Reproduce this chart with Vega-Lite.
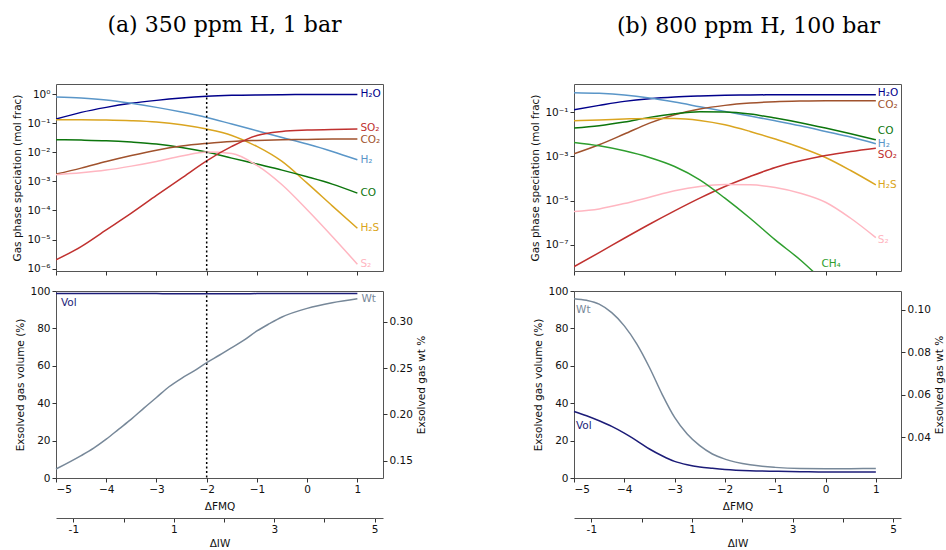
{
  "$schema": "https://vega.github.io/schema/vega-lite/v6.json",
  "background": "white",
  "padding": {"left": 12, "top": 13, "right": 0, "bottom": 0},
  "config": {
    "view": {"stroke": "#555", "strokeWidth": 1},
    "axis": {"labelFont": "DejaVu Sans", "labelFontSize": 10.5, "labelColor": "#111", "titleFont": "DejaVu Sans", "titleFontSize": 10.5, "titleFontWeight": "normal", "titleColor": "#111", "domain": false, "grid": false, "tickColor": "#333", "tickSize": 4, "labelPadding": 2, "labelOverlap": false},
    "text": {"font": "DejaVu Sans", "fontSize": 10.5}
  },
  "datasets": {
    "specA": [
      {"fmq": -5, "sp": "H₂O", "v": 0.138}, {"fmq": -4.5, "sp": "H₂O", "v": 0.234}, {"fmq": -4, "sp": "H₂O", "v": 0.348}, {"fmq": -3.5, "sp": "H₂O", "v": 0.478}, {"fmq": -3, "sp": "H₂O", "v": 0.605}, {"fmq": -2.5, "sp": "H₂O", "v": 0.728}, {"fmq": -2, "sp": "H₂O", "v": 0.832}, {"fmq": -1.5, "sp": "H₂O", "v": 0.899}, {"fmq": -1, "sp": "H₂O", "v": 0.933}, {"fmq": -0.5, "sp": "H₂O", "v": 0.951}, {"fmq": 0, "sp": "H₂O", "v": 0.959}, {"fmq": 0.5, "sp": "H₂O", "v": 0.966}, {"fmq": 1, "sp": "H₂O", "v": 0.970},
      {"fmq": -5, "sp": "H₂", "v": 0.789}, {"fmq": -4.5, "sp": "H₂", "v": 0.728}, {"fmq": -4, "sp": "H₂", "v": 0.622}, {"fmq": -3.5, "sp": "H₂", "v": 0.478}, {"fmq": -3, "sp": "H₂", "v": 0.348}, {"fmq": -2.5, "sp": "H₂", "v": 0.240}, {"fmq": -2, "sp": "H₂", "v": 0.157}, {"fmq": -1.5, "sp": "H₂", "v": 0.0929}, {"fmq": -1, "sp": "H₂", "v": 0.0548}, {"fmq": -0.5, "sp": "H₂", "v": 0.0323}, {"fmq": 0, "sp": "H₂", "v": 0.0191}, {"fmq": 0.5, "sp": "H₂", "v": 0.01067}, {"fmq": 1, "sp": "H₂", "v": 0.00551},
      {"fmq": -5, "sp": "H₂S", "v": 0.131}, {"fmq": -4.5, "sp": "H₂S", "v": 0.131}, {"fmq": -4, "sp": "H₂S", "v": 0.128}, {"fmq": -3.5, "sp": "H₂S", "v": 0.121}, {"fmq": -3, "sp": "H₂S", "v": 0.109}, {"fmq": -2.5, "sp": "H₂S", "v": 0.0881}, {"fmq": -2, "sp": "H₂S", "v": 0.0625}, {"fmq": -1.5, "sp": "H₂S", "v": 0.0378}, {"fmq": -1, "sp": "H₂S", "v": 0.0158}, {"fmq": -0.5, "sp": "H₂S", "v": 0.00482}, {"fmq": 0, "sp": "H₂S", "v": 0.000867}, {"fmq": 0.5, "sp": "H₂S", "v": 0.000144}, {"fmq": 1, "sp": "H₂S", "v": 0.0000245},
      {"fmq": -5, "sp": "CO", "v": 0.0269}, {"fmq": -4.5, "sp": "CO", "v": 0.0261}, {"fmq": -4, "sp": "CO", "v": 0.0248}, {"fmq": -3.5, "sp": "CO", "v": 0.0223}, {"fmq": -3, "sp": "CO", "v": 0.0191}, {"fmq": -2.5, "sp": "CO", "v": 0.0146}, {"fmq": -2, "sp": "CO", "v": 0.0101}, {"fmq": -1.5, "sp": "CO", "v": 0.00628}, {"fmq": -1, "sp": "CO", "v": 0.00391}, {"fmq": -0.5, "sp": "CO", "v": 0.00243}, {"fmq": 0, "sp": "CO", "v": 0.00143}, {"fmq": 0.5, "sp": "CO", "v": 0.000802}, {"fmq": 1, "sp": "CO", "v": 0.000393},
      {"fmq": -5, "sp": "CO₂", "v": 0.00177}, {"fmq": -4.5, "sp": "CO₂", "v": 0.00284}, {"fmq": -4, "sp": "CO₂", "v": 0.00482}, {"fmq": -3.5, "sp": "CO₂", "v": 0.00776}, {"fmq": -3, "sp": "CO₂", "v": 0.0118}, {"fmq": -2.5, "sp": "CO₂", "v": 0.0163}, {"fmq": -2, "sp": "CO₂", "v": 0.0201}, {"fmq": -1.5, "sp": "CO₂", "v": 0.0236}, {"fmq": -1, "sp": "CO₂", "v": 0.0255}, {"fmq": -0.5, "sp": "CO₂", "v": 0.0269}, {"fmq": 0, "sp": "CO₂", "v": 0.0275}, {"fmq": 0.5, "sp": "CO₂", "v": 0.0283}, {"fmq": 1, "sp": "CO₂", "v": 0.0283},
      {"fmq": -5, "sp": "S₂", "v": 0.00170}, {"fmq": -4.5, "sp": "S₂", "v": 0.00197}, {"fmq": -4, "sp": "S₂", "v": 0.00243}, {"fmq": -3.5, "sp": "S₂", "v": 0.00333}, {"fmq": -3, "sp": "S₂", "v": 0.00482}, {"fmq": -2.5, "sp": "S₂", "v": 0.00736}, {"fmq": -2, "sp": "S₂", "v": 0.0101}, {"fmq": -1.5, "sp": "S₂", "v": 0.00910}, {"fmq": -1, "sp": "S₂", "v": 0.00352}, {"fmq": -0.5, "sp": "S₂", "v": 0.000760}, {"fmq": 0, "sp": "S₂", "v": 0.000105}, {"fmq": 0.5, "sp": "S₂", "v": 0.0000127}, {"fmq": 1, "sp": "S₂", "v": 0.00000142},
      {"fmq": -5, "sp": "SO₂", "v": 0.00000200}, {"fmq": -4.5, "sp": "SO₂", "v": 0.00000574}, {"fmq": -4, "sp": "SO₂", "v": 0.0000215}, {"fmq": -3.5, "sp": "SO₂", "v": 0.0000805}, {"fmq": -3, "sp": "SO₂", "v": 0.000327}, {"fmq": -2.5, "sp": "SO₂", "v": 0.00129}, {"fmq": -2, "sp": "SO₂", "v": 0.00508}, {"fmq": -1.5, "sp": "SO₂", "v": 0.0158}, {"fmq": -1, "sp": "SO₂", "v": 0.0378}, {"fmq": -0.5, "sp": "SO₂", "v": 0.0520}, {"fmq": 0, "sp": "SO₂", "v": 0.0577}, {"fmq": 0.5, "sp": "SO₂", "v": 0.0608}, {"fmq": 1, "sp": "SO₂", "v": 0.0625}
    ],
    "specB": [
      {"fmq": -5, "sp": "H₂O", "v": 0.132}, {"fmq": -4.5, "sp": "H₂O", "v": 0.208}, {"fmq": -4, "sp": "H₂O", "v": 0.316}, {"fmq": -3.5, "sp": "H₂O", "v": 0.418}, {"fmq": -3, "sp": "H₂O", "v": 0.498}, {"fmq": -2.5, "sp": "H₂O", "v": 0.552}, {"fmq": -2, "sp": "H₂O", "v": 0.593}, {"fmq": -1.5, "sp": "H₂O", "v": 0.614}, {"fmq": -1, "sp": "H₂O", "v": 0.630}, {"fmq": -0.5, "sp": "H₂O", "v": 0.635}, {"fmq": 0, "sp": "H₂O", "v": 0.635}, {"fmq": 0.5, "sp": "H₂O", "v": 0.635}, {"fmq": 1, "sp": "H₂O", "v": 0.635},
      {"fmq": -5, "sp": "H₂", "v": 0.783}, {"fmq": -4.5, "sp": "H₂", "v": 0.731}, {"fmq": -4, "sp": "H₂", "v": 0.614}, {"fmq": -3.5, "sp": "H₂", "v": 0.449}, {"fmq": -3, "sp": "H₂", "v": 0.295}, {"fmq": -2.5, "sp": "H₂", "v": 0.181}, {"fmq": -2, "sp": "H₂", "v": 0.111}, {"fmq": -1.5, "sp": "H₂", "v": 0.0681}, {"fmq": -1, "sp": "H₂", "v": 0.0418}, {"fmq": -0.5, "sp": "H₂", "v": 0.0248}, {"fmq": 0, "sp": "H₂", "v": 0.0137}, {"fmq": 0.5, "sp": "H₂", "v": 0.00757}, {"fmq": 1, "sp": "H₂", "v": 0.00377},
      {"fmq": -5, "sp": "CO₂", "v": 0.00132}, {"fmq": -4.5, "sp": "CO₂", "v": 0.00339}, {"fmq": -4, "sp": "CO₂", "v": 0.0104}, {"fmq": -3.5, "sp": "CO₂", "v": 0.0327}, {"fmq": -3, "sp": "CO₂", "v": 0.0783}, {"fmq": -2.5, "sp": "CO₂", "v": 0.142}, {"fmq": -2, "sp": "CO₂", "v": 0.208}, {"fmq": -1.5, "sp": "CO₂", "v": 0.265}, {"fmq": -1, "sp": "CO₂", "v": 0.305}, {"fmq": -0.5, "sp": "CO₂", "v": 0.327}, {"fmq": 0, "sp": "CO₂", "v": 0.339}, {"fmq": 0.5, "sp": "CO₂", "v": 0.339}, {"fmq": 1, "sp": "CO₂", "v": 0.339},
      {"fmq": -5, "sp": "CO", "v": 0.0194}, {"fmq": -4.5, "sp": "CO", "v": 0.0248}, {"fmq": -4, "sp": "CO", "v": 0.0364}, {"fmq": -3.5, "sp": "CO", "v": 0.0593}, {"fmq": -3, "sp": "CO", "v": 0.0869}, {"fmq": -2.5, "sp": "CO", "v": 0.107}, {"fmq": -2, "sp": "CO", "v": 0.104}, {"fmq": -1.5, "sp": "CO", "v": 0.0839}, {"fmq": -1, "sp": "CO", "v": 0.0552}, {"fmq": -0.5, "sp": "CO", "v": 0.0339}, {"fmq": 0, "sp": "CO", "v": 0.0194}, {"fmq": 0.5, "sp": "CO", "v": 0.0107}, {"fmq": 1, "sp": "CO", "v": 0.00573},
      {"fmq": -5, "sp": "H₂S", "v": 0.0418}, {"fmq": -4.5, "sp": "H₂S", "v": 0.0449}, {"fmq": -4, "sp": "H₂S", "v": 0.0498}, {"fmq": -3.5, "sp": "H₂S", "v": 0.0533}, {"fmq": -3, "sp": "H₂S", "v": 0.0533}, {"fmq": -2.5, "sp": "H₂S", "v": 0.0433}, {"fmq": -2, "sp": "H₂S", "v": 0.0275}, {"fmq": -1.5, "sp": "H₂S", "v": 0.0137}, {"fmq": -1, "sp": "H₂S", "v": 0.00614}, {"fmq": -0.5, "sp": "H₂S", "v": 0.00256}, {"fmq": 0, "sp": "H₂S", "v": 0.000901}, {"fmq": 0.5, "sp": "H₂S", "v": 0.000231}, {"fmq": 1, "sp": "H₂S", "v": 0.0000515},
      {"fmq": -5, "sp": "SO₂", "v": 1.00e-8}, {"fmq": -4.5, "sp": "SO₂", "v": 4.33e-8}, {"fmq": -4, "sp": "SO₂", "v": 1.94e-7}, {"fmq": -3.5, "sp": "SO₂", "v": 8.39e-7}, {"fmq": -3, "sp": "SO₂", "v": 3.39e-6}, {"fmq": -2.5, "sp": "SO₂", "v": 1.28e-5}, {"fmq": -2, "sp": "SO₂", "v": 4.33e-5}, {"fmq": -1.5, "sp": "SO₂", "v": 1.23e-4}, {"fmq": -1, "sp": "SO₂", "v": 3.16e-4}, {"fmq": -0.5, "sp": "SO₂", "v": 6.35e-4}, {"fmq": 0, "sp": "SO₂", "v": 1.11e-3}, {"fmq": 0.5, "sp": "SO₂", "v": 1.69e-3}, {"fmq": 1, "sp": "SO₂", "v": 2.39e-3},
      {"fmq": -5, "sp": "S₂", "v": 3.16e-6}, {"fmq": -4.5, "sp": "S₂", "v": 4.18e-6}, {"fmq": -4, "sp": "S₂", "v": 7.31e-6}, {"fmq": -3.5, "sp": "S₂", "v": 1.42e-5}, {"fmq": -3, "sp": "S₂", "v": 2.75e-5}, {"fmq": -2.5, "sp": "S₂", "v": 4.33e-5}, {"fmq": -2, "sp": "S₂", "v": 5.33e-5}, {"fmq": -1.5, "sp": "S₂", "v": 5.15e-5}, {"fmq": -1, "sp": "S₂", "v": 3.90e-5}, {"fmq": -0.5, "sp": "S₂", "v": 2.15e-5}, {"fmq": 0, "sp": "S₂", "v": 8.39e-6}, {"fmq": 0.5, "sp": "S₂", "v": 1.57e-6}, {"fmq": 1, "sp": "S₂", "v": 2.08e-7},
      {"fmq": -5, "sp": "CH₄", "v": 4.33e-3}, {"fmq": -4.5, "sp": "CH₄", "v": 3.05e-3}, {"fmq": -4, "sp": "CH₄", "v": 1.81e-3}, {"fmq": -3.5, "sp": "CH₄", "v": 9.02e-4}, {"fmq": -3, "sp": "CH₄", "v": 3.51e-4}, {"fmq": -2.5, "sp": "CH₄", "v": 8.69e-5}, {"fmq": -2, "sp": "CH₄", "v": 1.28e-5}, {"fmq": -1.5, "sp": "CH₄", "v": 1.57e-6}, {"fmq": -1, "sp": "CH₄", "v": 1.63e-7}, {"fmq": -0.5, "sp": "CH₄", "v": 2.01e-8}, {"fmq": 0, "sp": "CH₄", "v": 1.75e-9}
    ],
    "bulkA": [
      {"fmq": -5, "vol": 98.6, "wt": 0.1409}, {"fmq": -4.5, "vol": 98.6, "wt": 0.1554}, {"fmq": -4.25, "vol": 98.6, "wt": 0.1636}, {"fmq": -4, "vol": 98.6, "wt": 0.1733}, {"fmq": -3.75, "vol": 98.6, "wt": 0.1841}, {"fmq": -3.5, "vol": 98.6, "wt": 0.1949}, {"fmq": -3.25, "vol": 98.6, "wt": 0.2068}, {"fmq": -3, "vol": 98.6, "wt": 0.2183}, {"fmq": -2.75, "vol": 98.5, "wt": 0.2299}, {"fmq": -2.5, "vol": 98.5, "wt": 0.2391}, {"fmq": -2.25, "vol": 98.5, "wt": 0.2471}, {"fmq": -2, "vol": 98.5, "wt": 0.2561}, {"fmq": -1.75, "vol": 98.5, "wt": 0.2640}, {"fmq": -1.5, "vol": 98.5, "wt": 0.2723}, {"fmq": -1.25, "vol": 98.5, "wt": 0.2806}, {"fmq": -1, "vol": 98.6, "wt": 0.2903}, {"fmq": -0.75, "vol": 98.6, "wt": 0.2982}, {"fmq": -0.5, "vol": 98.6, "wt": 0.3054}, {"fmq": 0, "vol": 98.6, "wt": 0.3147}, {"fmq": 0.5, "vol": 98.6, "wt": 0.3208}, {"fmq": 1, "vol": 98.6, "wt": 0.3251}
    ],
    "bulkB": [
      {"fmq": -5, "vol": 35.6, "wt": 0.1053}, {"fmq": -4.75, "vol": 33.3, "wt": 0.1045}, {"fmq": -4.5, "vol": 30.6, "wt": 0.1027}, {"fmq": -4.25, "vol": 27.6, "wt": 0.0987}, {"fmq": -4, "vol": 24.0, "wt": 0.0925}, {"fmq": -3.75, "vol": 19.9, "wt": 0.0839}, {"fmq": -3.5, "vol": 15.5, "wt": 0.0729}, {"fmq": -3.25, "vol": 11.9, "wt": 0.0604}, {"fmq": -3, "vol": 8.9, "wt": 0.0494}, {"fmq": -2.75, "vol": 7.1, "wt": 0.0416}, {"fmq": -2.5, "vol": 5.9, "wt": 0.0361}, {"fmq": -2.25, "vol": 5.2, "wt": 0.0322}, {"fmq": -2, "vol": 4.6, "wt": 0.0298}, {"fmq": -1.5, "vol": 3.9, "wt": 0.0271}, {"fmq": -1, "vol": 3.6, "wt": 0.0259}, {"fmq": -0.5, "vol": 3.4, "wt": 0.0254}, {"fmq": 0, "vol": 3.2, "wt": 0.0253}, {"fmq": 0.5, "vol": 3.2, "wt": 0.0253}, {"fmq": 1, "vol": 3.2, "wt": 0.0254}
    ]
  },
  "columns": 2,
  "spacing": {"row": 20, "column": 191},
  "bounds": "flush",
  "concat": [
    {
      "title": {"text": "(a) 350 ppm H, 1 bar", "font": "DejaVu Serif", "fontSize": 22, "fontWeight": "normal", "anchor": "middle", "offset": 46, "dx": 5, "color": "#000"},
      "width": 327, "height": 187,
      "data": {"name": "specA"},
      "encoding": {"x": {"field": "fmq", "type": "quantitative", "scale": {"domain": [-5, 1.51], "nice": false, "zero": false}, "axis": {"values": [-5, -4, -3, -2, -1, 0, 1], "labels": false, "title": null, "tickCount": 10}}},
      "layer": [
        {"mark": {"type": "line", "strokeWidth": 1.5, "interpolate": "monotone", "clip": true},
         "encoding": {
           "y": {"field": "v", "type": "quantitative", "scale": {"type": "log", "domain": [8.3e-7, 2.21], "nice": false}, "axis": {"values": [1e-6, 1e-5, 1e-4, 1e-3, 1e-2, 1e-1, 1], "tickCount": 10, "labelExpr": "'10' + (datum.value < 0.99 ? '⁻' : '') + ['⁰','¹','²','³','⁴','⁵','⁶','⁷','⁸','⁹'][abs(round(log(datum.value)/LN10))]", "title": "Gas phase speciation (mol frac)"}},
           "color": {"field": "sp", "type": "nominal", "scale": {"domain": ["H₂O", "H₂", "SO₂", "CO₂", "CO", "H₂S", "S₂", "CH₄"], "range": ["#00008b", "#5a96c8", "#c0312f", "#a0522d", "#0c750c", "#daa520", "#ffb6c1", "#2e9e2e"]}, "legend": null}
         }},
        {"data": {"values": [{"fmq": -2}]}, "mark": {"type": "rule", "strokeDash": [2, 2.5], "strokeWidth": 1.5, "color": "#000"}, "encoding": {}},
        {"transform": [{"filter": "datum.fmq == 1 && datum.sp != 'SO₂' && datum.sp != 'CO₂'"}], "mark": {"type": "text", "align": "left", "baseline": "middle", "dx": 3},
         "encoding": {"y": {"field": "v", "type": "quantitative"}, "text": {"field": "sp"}, "color": {"field": "sp", "type": "nominal"}}},
        {"transform": [{"filter": "datum.fmq == 1 && datum.sp == 'SO₂'"}], "mark": {"type": "text", "align": "left", "baseline": "middle", "dx": 3, "dy": -1},
         "encoding": {"y": {"field": "v", "type": "quantitative"}, "text": {"field": "sp"}, "color": {"field": "sp", "type": "nominal"}}},
        {"transform": [{"filter": "datum.fmq == 1 && datum.sp == 'CO₂'"}], "mark": {"type": "text", "align": "left", "baseline": "middle", "dx": 3, "dy": 1},
         "encoding": {"y": {"field": "v", "type": "quantitative"}, "text": {"field": "sp"}, "color": {"field": "sp", "type": "nominal"}}}
      ]
    },
    {
      "title": {"text": "(b) 800 ppm H, 100 bar", "font": "DejaVu Serif", "fontSize": 22, "fontWeight": "normal", "anchor": "middle", "offset": 46, "dx": 11, "color": "#000"},
      "width": 327, "height": 187,
      "data": {"name": "specB"},
      "encoding": {"x": {"field": "fmq", "type": "quantitative", "scale": {"domain": [-5, 1.5], "nice": false, "zero": false}, "axis": {"values": [-5, -4, -3, -2, -1, 0, 1], "labels": false, "title": null, "tickCount": 10}}},
      "layer": [
        {"mark": {"type": "line", "strokeWidth": 1.5, "interpolate": "monotone", "clip": true},
         "encoding": {
           "y": {"field": "v", "type": "quantitative", "scale": {"type": "log", "domain": [6.35e-9, 1.94], "nice": false}, "axis": {"values": [1e-7, 1e-5, 1e-3, 1e-1], "tickCount": 10, "labelExpr": "'10' + (datum.value < 0.99 ? '⁻' : '') + ['⁰','¹','²','³','⁴','⁵','⁶','⁷','⁸','⁹'][abs(round(log(datum.value)/LN10))]", "title": "Gas phase speciation (mol frac)"}},
           "color": {"field": "sp", "type": "nominal", "scale": {"domain": ["H₂O", "H₂", "SO₂", "CO₂", "CO", "H₂S", "S₂", "CH₄"], "range": ["#00008b", "#5a96c8", "#c0312f", "#a0522d", "#0c750c", "#daa520", "#ffb6c1", "#2e9e2e"]}, "legend": null}
         }},
        {"transform": [{"filter": "datum.fmq == 1 && (datum.sp == 'H₂' || datum.sp == 'H₂S')"}], "mark": {"type": "text", "align": "left", "baseline": "middle", "dx": 2, "dy": 0},
         "encoding": {"y": {"field": "v", "type": "quantitative"}, "text": {"field": "sp"}, "color": {"field": "sp", "type": "nominal"}}},
        {"transform": [{"filter": "datum.fmq == 1 && datum.sp == 'H₂O'"}], "mark": {"type": "text", "align": "left", "baseline": "middle", "dx": 2, "dy": -2},
         "encoding": {"y": {"field": "v", "type": "quantitative"}, "text": {"field": "sp"}, "color": {"field": "sp", "type": "nominal"}}},
        {"transform": [{"filter": "datum.fmq == 1 && datum.sp == 'CO₂'"}], "mark": {"type": "text", "align": "left", "baseline": "middle", "dx": 2, "dy": 4},
         "encoding": {"y": {"field": "v", "type": "quantitative"}, "text": {"field": "sp"}, "color": {"field": "sp", "type": "nominal"}}},
        {"transform": [{"filter": "datum.fmq == 1 && datum.sp == 'CO'"}], "mark": {"type": "text", "align": "left", "baseline": "middle", "dx": 2, "dy": -9},
         "encoding": {"y": {"field": "v", "type": "quantitative"}, "text": {"field": "sp"}, "color": {"field": "sp", "type": "nominal"}}},
        {"transform": [{"filter": "datum.fmq == 1 && datum.sp == 'SO₂'"}], "mark": {"type": "text", "align": "left", "baseline": "middle", "dx": 2, "dy": 7},
         "encoding": {"y": {"field": "v", "type": "quantitative"}, "text": {"field": "sp"}, "color": {"field": "sp", "type": "nominal"}}},
        {"transform": [{"filter": "datum.fmq == 1 && datum.sp == 'S₂'"}], "mark": {"type": "text", "align": "left", "baseline": "middle", "dx": 2, "dy": 2},
         "encoding": {"y": {"field": "v", "type": "quantitative"}, "text": {"field": "sp"}, "color": {"field": "sp", "type": "nominal"}}},
        {"transform": [{"filter": "datum.fmq == -0.5 && datum.sp == 'CH₄'"}], "mark": {"type": "text", "align": "left", "baseline": "middle", "dx": 21, "dy": 4},
         "encoding": {"y": {"field": "v", "type": "quantitative"}, "text": {"field": "sp"}, "color": {"field": "sp", "type": "nominal"}}}
      ]
    },
    {
      "width": 327, "height": 187,
      "data": {"name": "bulkA"},
      "encoding": {"x": {"field": "fmq", "type": "quantitative", "scale": {"domain": [-5, 1.51], "nice": false, "zero": false}, "axis": {"values": [-5, -4, -3, -2, -1, 0, 1], "tickCount": 10, "format": "d", "title": "ΔFMQ", "titlePadding": 7}}},
      "layer": [
        {"layer": [
          {"mark": {"type": "line", "strokeWidth": 1.5, "color": "#1c1c78", "interpolate": "monotone"},
           "encoding": {"y": {"field": "vol", "type": "quantitative", "scale": {"domain": [0, 100], "nice": false}, "axis": {"values": [0, 20, 40, 60, 80, 100], "tickCount": 10, "format": "d", "title": "Exsolved gas volume (%)"}}}},
          {"transform": [{"filter": "datum.fmq == -5"}], "mark": {"type": "text", "align": "left", "baseline": "middle", "dx": 5, "dy": 9, "color": "#1c1c78"},
           "encoding": {"y": {"field": "vol", "type": "quantitative"}, "text": {"value": "Vol"}}},
          {"data": {"values": [{"fmq": -2}]}, "mark": {"type": "rule", "strokeDash": [2, 2.5], "strokeWidth": 1.5, "color": "#000"}, "encoding": {}}
        ]},
        {"layer": [
          {"mark": {"type": "line", "strokeWidth": 1.5, "color": "#778899", "interpolate": "monotone"},
           "encoding": {"y": {"field": "wt", "type": "quantitative", "scale": {"domain": [0.1312, 0.3335], "nice": false, "zero": false}, "axis": {"orient": "right", "values": [0.15, 0.20, 0.25, 0.30], "tickCount": 10, "format": ".2f", "title": "Exsolved gas wt %", "titleAngle": 270, "titleBaseline": "top", "titlePadding": 4}}}},
          {"transform": [{"filter": "datum.fmq == 1"}], "mark": {"type": "text", "align": "left", "baseline": "middle", "dx": 4, "color": "#778899"},
           "encoding": {"y": {"field": "wt", "type": "quantitative"}, "text": {"value": "Wt"}}}
        ]}
      ],
      "resolve": {"scale": {"y": "independent"}}
    },
    {
      "width": 327, "height": 187,
      "data": {"name": "bulkB"},
      "encoding": {"x": {"field": "fmq", "type": "quantitative", "scale": {"domain": [-5, 1.5], "nice": false, "zero": false}, "axis": {"values": [-5, -4, -3, -2, -1, 0, 1], "tickCount": 10, "format": "d", "title": "ΔFMQ", "titlePadding": 7}}},
      "layer": [
        {"layer": [
          {"mark": {"type": "line", "strokeWidth": 1.5, "color": "#1c1c78", "interpolate": "monotone"},
           "encoding": {"y": {"field": "vol", "type": "quantitative", "scale": {"domain": [0, 100], "nice": false}, "axis": {"values": [0, 20, 40, 60, 80, 100], "tickCount": 10, "format": "d", "title": "Exsolved gas volume (%)"}}}},
          {"transform": [{"filter": "datum.fmq == -5"}], "mark": {"type": "text", "align": "left", "baseline": "middle", "dx": 2, "dy": 15, "color": "#1c1c78"},
           "encoding": {"y": {"field": "vol", "type": "quantitative"}, "text": {"value": "Vol"}}}
        ]},
        {"layer": [
          {"mark": {"type": "line", "strokeWidth": 1.5, "color": "#778899", "interpolate": "monotone"},
           "encoding": {"y": {"field": "wt", "type": "quantitative", "scale": {"domain": [0.0209, 0.1089], "nice": false, "zero": false}, "axis": {"orient": "right", "values": [0.04, 0.06, 0.08, 0.10], "tickCount": 10, "format": ".2f", "title": "Exsolved gas wt %", "titleAngle": 270, "titleBaseline": "top", "titlePadding": 4}}}},
          {"transform": [{"filter": "datum.fmq == -5"}], "mark": {"type": "text", "align": "left", "baseline": "middle", "dx": 2, "dy": 11, "color": "#778899"},
           "encoding": {"y": {"field": "wt", "type": "quantitative"}, "text": {"value": "Wt"}}}
        ]}
      ],
      "resolve": {"scale": {"y": "independent"}}
    },
    {
      "width": 327, "height": 20,
      "view": {"stroke": null},
      "data": {"values": [{"iw": -1}, {"iw": 5}]},
      "mark": {"type": "point", "opacity": 0},
      "encoding": {"x": {"field": "iw", "type": "quantitative", "scale": {"domain": [-1.345, 5.165], "nice": false, "zero": false}, "axis": {"values": [-1, 0, 1, 2, 3, 4, 5], "tickCount": 10, "format": "d", "labelExpr": "datum.value % 2 == 0 ? '' : replace(datum.label, '−', '-')", "title": "ΔIW", "titlePadding": 4, "domain": true, "domainColor": "#555"}}}
    },
    {
      "width": 327, "height": 20,
      "view": {"stroke": null},
      "data": {"values": [{"iw": -1}, {"iw": 5}]},
      "mark": {"type": "point", "opacity": 0},
      "encoding": {"x": {"field": "iw", "type": "quantitative", "scale": {"domain": [-1.345, 5.155], "nice": false, "zero": false}, "axis": {"values": [-1, 0, 1, 2, 3, 4, 5], "tickCount": 10, "format": "d", "labelExpr": "datum.value % 2 == 0 ? '' : replace(datum.label, '−', '-')", "title": "ΔIW", "titlePadding": 4, "domain": true, "domainColor": "#555"}}}
    }
  ]
}
